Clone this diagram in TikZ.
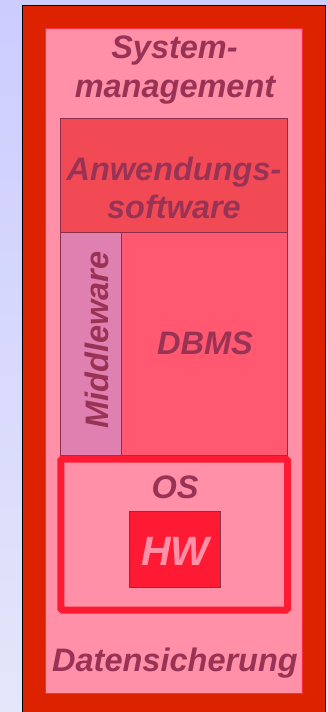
\documentclass[tikz,border=0pt]{standalone}
\usepackage{fontspec}
\setmainfont{Liberation Sans}
\definecolor{bgtop}{RGB}{204,204,255}
\definecolor{bgbot}{RGB}{228,230,250}
\definecolor{outerred}{RGB}{221,34,0}
\definecolor{pinkfill}{RGB}{255,144,168}
\definecolor{pinkline}{RGB}{255,40,60}
\definecolor{anwfill}{RGB}{242,74,85}
\definecolor{midfill}{RGB}{224,128,176}
\definecolor{dbmsfill}{RGB}{255,88,112}
\definecolor{osred}{RGB}{255,26,51}
\definecolor{edge}{RGB}{139,47,74}
\definecolor{txt}{RGB}{153,51,85}
\tikzset{
  blk/.style={rectangle, inner sep=0pt, outer sep=0pt},
  lbl/.style={anchor=base, inner sep=0pt, text=txt, font=\fontsize{32.5}{32.5}\selectfont\bfseries\itshape}
}
\begin{document}
\begin{tikzpicture}[x=1pt,y=-1pt]
\useasboundingbox (0,0) rectangle (328,712);
\shade[top color=bgtop, bottom color=bgbot] (0,0) rectangle (328,712);
% outer frame
\node[blk, fill=outerred, draw=black, line width=0.7pt, minimum width=303pt, minimum height=708pt] (outer) at (174.2,359) {};
\node[blk, fill=pinkfill, draw=pinkline, line width=0.8pt, minimum width=257pt, minimum height=665pt] (inner) at (174.2,360.8) {};
% blocks
\node[blk, fill=anwfill, draw=edge, line width=0.7pt, minimum width=227.4pt, minimum height=114pt] (anw) at (174,175.3) {};
\node[blk, fill=midfill, draw=edge, line width=0.7pt, minimum width=61pt, minimum height=223pt] (mid) at (90.8,343.8) {};
\node[blk, fill=dbmsfill, draw=edge, line width=0.7pt, minimum width=166.4pt, minimum height=223pt] (dbms) at (204.5,343.8) {};
\node[blk, fill=pinkfill, draw=osred, line width=7pt, rounded corners=1.5pt, minimum width=226.7pt, minimum height=151pt] (os) at (174.15,534.5) {};
\node[blk, fill=osred, draw=edge, line width=0.7pt, minimum width=91pt, minimum height=76pt] (hw) at (174.5,549.7) {};
% labels
\node[lbl] (t1) at (174.5,58.3) {System-};
\node[lbl] (t2) at (175,97) {management};
\node[lbl] (t3) at (174,180) {Anwendungs-};
\node[lbl] (t4) at (174,218.3) {software};
\node[lbl, rotate=90] (t5) at (108.3,340) {Middleware};
\node[lbl] (t6) at (205,354) {DBMS};
\node[lbl] (t7) at (175,498.3) {OS};
\node[lbl, text=pinkfill, font=\fontsize{41}{41}\selectfont\bfseries\itshape] (t8) at (175.5,565) {HW};
\node[lbl] (t9) at (175,671.7) {Datensicherung};
\end{tikzpicture}
\end{document}
